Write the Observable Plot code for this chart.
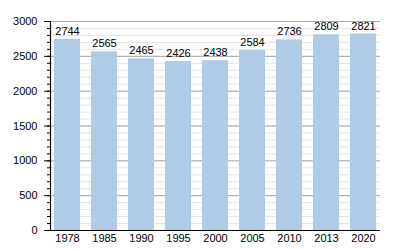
<!DOCTYPE html>
<html><head><meta charset="utf-8">
<script src="https://cdn.jsdelivr.net/npm/d3@7"></script>
<script src="https://cdn.jsdelivr.net/npm/@observablehq/plot@0.6"></script>
<style>body{margin:0;background:#fff;} svg{display:block;}</style>
</head><body><div id="chart"></div>
<script>
const years = ["1978","1985","1990","1995","2000","2005","2010","2013","2020"];
const population = [2744,2565,2465,2426,2438,2584,2736,2809,2821];
const majorTicks = [0,500,1000,1500,2000,2500,3000];
const minorTicks = d3.range(0,3001,100);

const data = years.map((y,i)=>({year:y, value:population[i]}));

const chart = Plot.plot({
  width: 400, height: 250,
  marginLeft: 50, marginRight: 20, marginTop: 21, marginBottom: 20,
  style: {fontFamily: "Liberation Sans, Arial, sans-serif", fontSize: "11px", color: "#000", background: "#fff"},
  x: {domain: years, paddingInner: 0.3, paddingOuter: 0, label: null},
  y: {domain: [0,3000], label: null},
  marks: [
    Plot.ruleY(minorTicks, {stroke: "#e4e4e4", strokeWidth: 1}),
    Plot.ruleY(majorTicks, {stroke: "#a8a8a8", strokeWidth: 1}),
    Plot.barY(data, {x: "year", y: "value", fill: "#b0cbe6"}),
    Plot.text(data, {x: "year", y: "value", text: d => String(d.value), dy: -8, fill: "#000", fontSize: 11}),
    Plot.axisY({ticks: majorTicks, tickSize: 6, tickPadding: 7, tickFormat: d3.format("d"), stroke: "#000", strokeOpacity: 1, fontSize: 11}),
    Plot.axisY({ticks: minorTicks, tickSize: 3, tickFormat: () => "", stroke: "#000", strokeOpacity: 1}),
    Plot.frame({anchor: "left", stroke: "#000", strokeWidth: 1.2}),
    Plot.ruleY([0], {stroke: "#000", strokeWidth: 1.2}),
    Plot.axisX({tickSize: 0, tickPadding: 4, fontSize: 11})
  ]
});
document.getElementById("chart").append(chart);
</script>
</body></html>
